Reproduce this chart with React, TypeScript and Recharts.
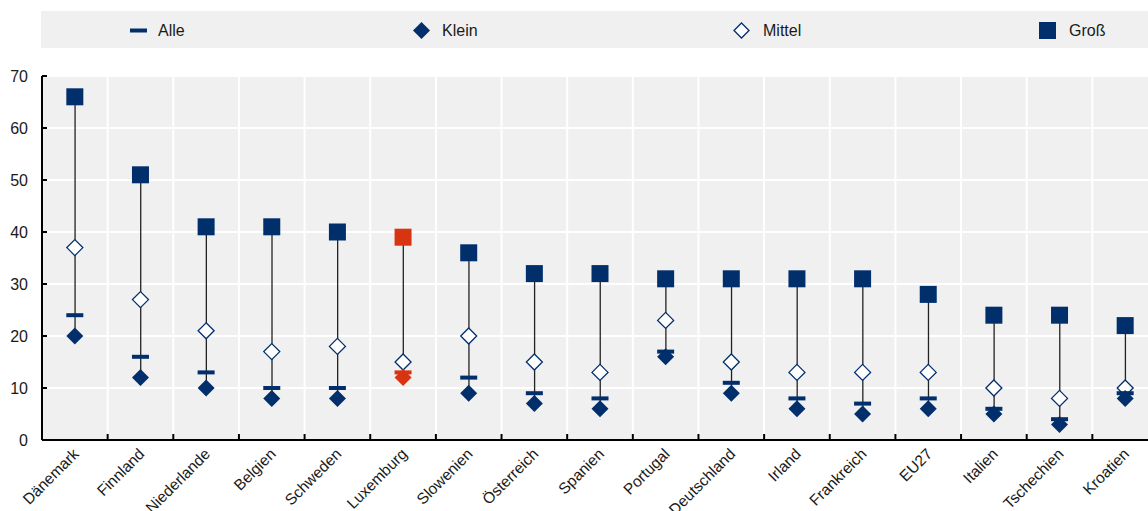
import { ComposedChart, Bar, Scatter, XAxis, YAxis, CartesianGrid } from "recharts";

const countries = ["Dänemark", "Finnland", "Niederlande", "Belgien", "Schweden", "Luxemburg", "Slowenien", "Österreich", "Spanien", "Portugal", "Deutschland", "Irland", "Frankreich", "EU27", "Italien", "Tschechien", "Kroatien"];
const gross = [66, 51, 41, 41, 40, 39, 36, 32, 32, 31, 31, 31, 31, 28, 24, 24, 22];
const mittel = [37, 27, 21, 17, 18, 15, 20, 15, 13, 23, 15, 13, 13, 13, 10, 8, 10];
const alle = [24, 16, 13, 10, 10, 13, 12, 9, 8, 17, 11, 8, 7, 8, 6, 4, 9];
const klein = [20, 12, 10, 8, 8, 12, 9, 7, 6, 16, 9, 6, 5, 6, 5, 3, 8];
const highlighted = ["Luxemburg"];
const yTicks = [0, 10, 20, 30, 40, 50, 60, 70];

const NAVY = "#002f6c";
const RED = "#d93412";
const BG = "#f0f0f0";
const FONT = "'Liberation Sans', Arial, sans-serif";

const data = countries.map((c, i) => ({
  name: c,
  gross: gross[i],
  mittel: mittel[i],
  alle: alle[i],
  klein: klein[i],
  range: [Math.min(klein[i], alle[i], mittel[i]), gross[i]],
  hl: highlighted.includes(c),
}));

// the plot runs a little past the right edge of the picture, as in the original
const CHART_W = 1158;
const Y_W = 42;
const BAND = (CHART_W - Y_W) / countries.length;

const colorOf = (p: any) => (p && p.hl ? RED : NAVY);

const RangeLine = (props: any) => {
  const { x, y, width, height } = props;
  const cx = x + width / 2;
  return <line x1={cx} x2={cx} y1={y} y2={y + height} stroke="#222" strokeWidth={1.3} />;
};

const SquareShape = (props: any) => {
  const { cx, cy, payload } = props;
  const s = 17;
  return <rect x={cx - s / 2} y={cy - s / 2} width={s} height={s} fill={colorOf(payload)} />;
};

const DiamondShape = (props: any) => {
  const { cx, cy, payload } = props;
  const r = 8.5;
  return <polygon points={`${cx},${cy - r} ${cx + r},${cy} ${cx},${cy + r} ${cx - r},${cy}`} fill={colorOf(payload)} />;
};

const HollowDiamondShape = (props: any) => {
  const { cx, cy } = props;
  const r = 8;
  return (
    <polygon
      points={`${cx},${cy - r} ${cx + r},${cy} ${cx},${cy + r} ${cx - r},${cy}`}
      fill="#fff"
      stroke={NAVY}
      strokeWidth={1.3}
    />
  );
};

const DashShape = (props: any) => {
  const { cx, cy, payload } = props;
  return <rect x={cx - 8.5} y={cy - 2} width={17} height={4} fill={colorOf(payload)} />;
};

const XTick = (props: any) => {
  const { x, y, payload } = props;
  const left = x - BAND / 2;
  const ax = x + 5;
  const ay = y + 15;
  return (
    <g>
      <line x1={left} x2={left} y1={y} y2={y - 6} stroke="#000" strokeWidth={2} />
      <text
        x={ax}
        y={ay}
        transform={`rotate(-45, ${ax}, ${ay})`}
        textAnchor="end"
        fontSize={15.5}
        fontFamily={FONT}
        fill="#1a1a1a"
      >
        {payload.value}
      </text>
    </g>
  );
};

const YTick = (props: any) => {
  const { x, y, payload } = props;
  return (
    <g>
      <line x1={x} x2={x + 5} y1={y} y2={y} stroke="#000" strokeWidth={2} />
      <text x={x - 14} y={y + 5.5} textAnchor="end" fontSize={16} fontFamily={FONT} fill="#1a1a1a">
        {payload.value}
      </text>
    </g>
  );
};

const legendItems = [
  { label: "Alle", left: 130, textLeft: 158, kind: "dash" },
  { label: "Klein", left: 413, textLeft: 442, kind: "diamond" },
  { label: "Mittel", left: 733, textLeft: 763, kind: "hollow" },
  { label: "Groß", left: 1039, textLeft: 1069, kind: "square" },
];

const LegendIcon = ({ kind }: { kind: string }) => {
  if (kind === "dash") return <svg width={17} height={17}><rect x={0} y={6.5} width={17} height={4} fill={NAVY} /></svg>;
  if (kind === "square") return <svg width={17} height={17}><rect x={0} y={0} width={17} height={17} fill={NAVY} /></svg>;
  if (kind === "diamond")
    return <svg width={17} height={17}><polygon points="8.5,0 17,8.5 8.5,17 0,8.5" fill={NAVY} /></svg>;
  return (
    <svg width={17} height={17}>
      <polygon points="8.5,1 16,8.5 8.5,16 1,8.5" fill="#fff" stroke={NAVY} strokeWidth={1.3} />
    </svg>
  );
};

export default function App() {
  return (
    <div style={{ position: "absolute", left: 0, top: 0, width: 1148, height: 511, background: "#fff", fontFamily: FONT, overflow: "hidden" }}>
      <div style={{ position: "absolute", left: 41, top: 11, width: 1107, height: 37, background: BG }}>
        {legendItems.map((it) => (
          <div key={it.label}>
            <div style={{ position: "absolute", left: it.left - 41, top: 11, width: 17, height: 17, lineHeight: 0 }}>
              <LegendIcon kind={it.kind} />
            </div>
            <div style={{ position: "absolute", left: it.textLeft - 41, top: 11, fontSize: 16, color: "#1a1a1a", lineHeight: "17px" }}>
              {it.label}
            </div>
          </div>
        ))}
      </div>
      <div style={{ position: "absolute", left: 0, top: 0 }}>
        <ComposedChart width={CHART_W} height={511} data={data} margin={{ top: 76, right: 0, left: 0, bottom: 0 }}>
          <CartesianGrid
            fill={BG}
            stroke="#fff"
            strokeWidth={2}
            verticalCoordinatesGenerator={({ offset }: any) =>
              Array.from({ length: countries.length + 1 }, (_, i) => offset.left + (i * offset.width) / countries.length)
            }
          />
          <XAxis
            dataKey="name"
            height={71}
            interval={0}
            tickLine={false}
            tickSize={0}
            tickMargin={0}
            axisLine={{ stroke: "#000", strokeWidth: 2 }}
            tick={<XTick />}
          />
          <YAxis
            width={Y_W}
            domain={[0, 70]}
            ticks={yTicks}
            interval={0}
            tickLine={false}
            tickSize={0}
            tickMargin={0}
            axisLine={{ stroke: "#000", strokeWidth: 2 }}
            tick={<YTick />}
          />
          <Bar dataKey="range" shape={<RangeLine />} isAnimationActive={false} />
          <Scatter dataKey="mittel" shape={<HollowDiamondShape />} isAnimationActive={false} />
          <Scatter dataKey="alle" shape={<DashShape />} isAnimationActive={false} />
          <Scatter dataKey="klein" shape={<DiamondShape />} isAnimationActive={false} />
          <Scatter dataKey="gross" shape={<SquareShape />} isAnimationActive={false} />
        </ComposedChart>
      </div>
    </div>
  );
}
